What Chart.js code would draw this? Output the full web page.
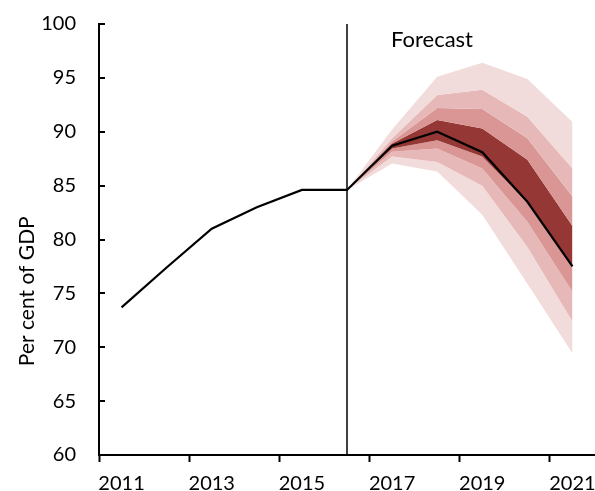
<!DOCTYPE html>
<html>
<head>
<meta charset="utf-8">
<script src="https://cdn.jsdelivr.net/npm/chart.js@4/dist/chart.umd.min.js"></script>
<style>
  html, body { margin: 0; padding: 0; background: #ffffff; }
  #wrap { width: 595px; height: 491px; }
</style>
</head>
<body>
<div id="wrap"><canvas id="c" width="595" height="491"></canvas></div>
<script>
// Debt as a per cent of GDP: outturns to 2016, then fan of forecast probabilities.
const years = ['2011', '2012', '2013', '2014', '2015', '2016', '2017', '2018', '2019', '2020', '2021'];
const central = [73.7, 77.4, 81.0, 83.0, 84.6, 84.6, 88.7, 90.0, 88.1, 83.5, 77.5];

// Fan boundaries, outermost upper to outermost lower
const upper90 = [null, null, null, null, null, 84.6, 90.2, 95.1, 96.4, 94.9, 90.9];
const upper60 = [null, null, null, null, null, 84.6, 89.4, 93.4, 93.9, 91.4, 86.6];
const upper30 = [null, null, null, null, null, 84.6, 89.1, 92.2, 92.1, 89.4, 84.0];
const upper10 = [null, null, null, null, null, 84.6, 88.9, 91.1, 90.3, 87.4, 81.25];
const lower10 = [null, null, null, null, null, 84.6, 88.45, 89.2, 87.7, 83.4, 77.45];
const lower30 = [null, null, null, null, null, 84.6, 88.15, 88.45, 86.6, 81.65, 75.15];
const lower60 = [null, null, null, null, null, 84.6, 87.7, 87.2, 85.0, 79.3, 72.4];
const lower90 = [null, null, null, null, null, 84.6, 87.05, 86.3, 82.3, 75.9, 69.45];

const yTicks = [60, 65, 70, 75, 80, 85, 90, 95, 100];
const forecastStart = '2016';

const FONT = 'Lato, "DejaVu Sans", sans-serif';
const C_LIGHTEST = '#f2dcdb';
const C_LIGHT = '#e6b9b8';
const C_MEDIUM = '#d99694';
const C_DARK = '#953735';

function band(data, fillColor) {
  return {
    data: data,
    order: 1,
    borderWidth: 0,
    borderColor: 'rgba(0,0,0,0)',
    backgroundColor: fillColor,
    pointRadius: 0,
    tension: 0,
    fill: fillColor ? '-1' : false,
    spanGaps: false
  };
}

const datasets = [
  band(upper90, null),
  band(upper60, C_LIGHTEST),
  band(upper30, C_LIGHT),
  band(upper10, C_MEDIUM),
  band(lower10, C_DARK),
  band(lower30, C_MEDIUM),
  band(lower60, C_LIGHT),
  band(lower90, C_LIGHTEST),
  {
    data: central,
    order: 0,
    borderColor: '#000000',
    borderWidth: 2.2,
    pointRadius: 0,
    tension: 0,
    fill: false
  }
];

// Inward y ticks, forecast divider, labels
const decorations = {
  id: 'decorations',
  afterDatasetsDraw(chart) {
    const ctx = chart.ctx;
    const x = chart.scales.x;
    const y = chart.scales.y;
    const area = chart.chartArea;
    ctx.save();
    // forecast divider
    const xf = x.getPixelForValue(years.indexOf(forecastStart));
    ctx.strokeStyle = '#000000';
    ctx.lineWidth = 1.5;
    ctx.beginPath();
    ctx.moveTo(xf, area.top);
    ctx.lineTo(xf, area.bottom);
    ctx.stroke();
    // y tick marks pointing into the plot
    ctx.lineWidth = 2;
    yTicks.forEach(v => {
      const py = Math.round(y.getPixelForValue(v));
      ctx.beginPath();
      ctx.moveTo(area.left, py);
      ctx.lineTo(area.left + 6, py);
      ctx.stroke();
    });
    // forecast label
    ctx.fillStyle = '#000000';
    ctx.font = '22px ' + FONT;
    ctx.textAlign = 'left';
    ctx.textBaseline = 'middle';
    ctx.fillText('Forecast', xf + 44, area.top + 16);
    // axis title
    ctx.font = '21px ' + FONT;
    ctx.translate(27, area.top + (area.bottom - area.top) * 0.62);
    ctx.rotate(-Math.PI / 2);
    ctx.textAlign = 'center';
    ctx.fillText('Per cent of GDP', 0, 0);
    ctx.restore();
  }
};

new Chart(document.getElementById('c'), {
  type: 'line',
  data: { labels: years, datasets: datasets },
  options: {
    responsive: false,
    animation: false,
    layout: { padding: { top: 24, right: 0, left: 0, bottom: 0 } },
    plugins: {
      legend: { display: false },
      tooltip: { enabled: false },
      filler: { propagate: false }
    },
    scales: {
      x: {
        type: 'category',
        offset: true,
        grid: {
          display: true,
          offset: true,
          drawOnChartArea: false,
          drawTicks: true,
          tickLength: 7,
          tickWidth: 2,
          tickColor: ctx => (ctx.index % 2 === 0 ? '#000000' : 'rgba(0,0,0,0)')
        },
        border: { display: true, color: '#000000', width: 2 },
        ticks: {
          autoSkip: false,
          maxRotation: 0,
          color: '#000000',
          font: { size: 20, family: FONT },
          padding: 10,
          callback: function (val, i) { return i % 2 === 0 ? this.getLabelForValue(val) : ''; }
        },
        afterFit: s => { s.height = 36; s.paddingLeft = 0; s.paddingRight = 0; }
      },
      y: {
        min: 60,
        max: 100,
        grid: { display: true, drawOnChartArea: false, drawTicks: false },
        border: { display: true, color: '#000000', width: 2 },
        ticks: {
          stepSize: 5,
          color: '#000000',
          font: { size: 20, family: FONT },
          padding: 23
        },
        afterFit: s => { s.width = 99; s.paddingTop = 0; s.paddingBottom = 0; }
      }
    }
  },
  plugins: [decorations]
});
</script>
</body>
</html>
